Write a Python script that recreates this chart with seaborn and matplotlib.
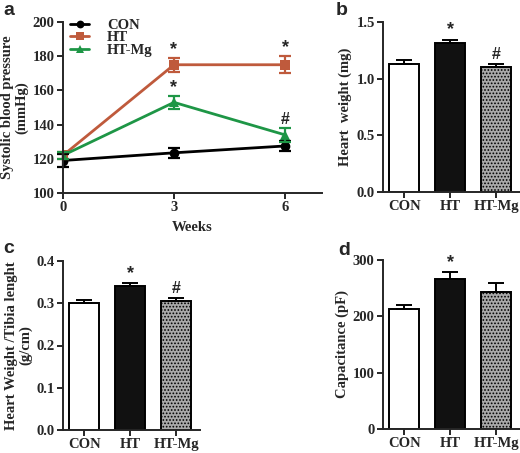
import numpy as np
import pandas as pd
import matplotlib
matplotlib.use('Agg')
import matplotlib.pyplot as plt
import seaborn as sns

# panel a: systolic blood pressure over weeks
weeks = [0, 3, 6]
groups = ['CON', 'HT', 'HT-Mg']
sbp_mean = {'CON': [119, 123.5, 127.5], 'HT': [122, 175, 175], 'HT-Mg': [122, 153, 134]}
sbp_err = {'CON': [4, 3, 3], 'HT': [2, 4, 5], 'HT-Mg': [2, 4, 4]}
sbp_marks = {'HT': ['', '*', '*'], 'HT-Mg': ['', '*', '#']}

# panels b, c, d: bar charts
heart_weight = [1.13, 1.315, 1.10]
heart_weight_err = [0.035, 0.03, 0.03]
hw_tibia = [0.300, 0.341, 0.306]
hw_tibia_err = [0.008, 0.007, 0.007]
capacitance = [213, 267, 244]
capacitance_err = [8, 12, 15]
bar_marks_b = ['', '*', '#']
bar_marks_c = ['', '*', '#']
bar_marks_d = ['', '*', '']

line_colors = {'CON': 'black', 'HT': '#bf5a3c', 'HT-Mg': '#1e9646'}
markers = {'CON': 'o', 'HT': 's', 'HT-Mg': '^'}
bar_faces = ['white', '#111111', '#a9a9a9']

sns.set_style('ticks')
plt.rcParams['font.family'] = ['Liberation Serif', 'DejaVu Serif']
plt.rcParams['font.weight'] = 'bold'
plt.rcParams['axes.labelweight'] = 'bold'
plt.rcParams['axes.linewidth'] = 1.4
plt.rcParams['xtick.major.width'] = 1.4
plt.rcParams['ytick.major.width'] = 1.4
plt.rcParams['xtick.major.size'] = 4
plt.rcParams['ytick.major.size'] = 4
plt.rcParams['hatch.color'] = '#d6d6d6'
plt.rcParams['hatch.linewidth'] = 0.8

W, H = 520, 453
fig = plt.figure(figsize=(W / 100, H / 100), dpi=100)
FS = 10.5


def ax_at(left, top, right, bottom):
    return fig.add_axes([left / W, 1 - bottom / H, (right - left) / W, (bottom - top) / H])


ax_a = ax_at(63, 22, 322, 193)
ax_b = ax_at(383, 22, 520, 192)
ax_c = ax_at(63, 261, 200, 430)
ax_d = ax_at(383, 260, 520, 429)


def mark(ax, x, y, s, dy):
    # significance sign just above the error bar cap
    ax.annotate(s, (x, y), xytext=(0, dy), textcoords='offset points',
                ha='center', va='center', fontsize=13 if s == '*' else 11.5,
                fontweight='bold', family=['Liberation Sans', 'DejaVu Sans'])


# ---- panel a
rows = []
for g in groups:
    for w, m, e in zip(weeks, sbp_mean[g], sbp_err[g]):
        rows.append([g, w, m, e])
df_a = pd.DataFrame(rows, columns=['Group', 'Week', 'SBP', 'SEM'])

sns.lineplot(data=df_a, x='Week', y='SBP', hue='Group', style='Group',
             palette=line_colors, markers=markers, dashes=False,
             markersize=7, linewidth=2, markeredgewidth=0, ax=ax_a, errorbar=None)
for g in groups:
    d = df_a[df_a['Group'] == g]
    ax_a.errorbar(d['Week'], d['SBP'], yerr=d['SEM'], fmt='none',
                  ecolor=line_colors[g], elinewidth=1.6, capsize=4, capthick=1.6, clip_on=False)
for g, marks in sbp_marks.items():
    d = df_a[df_a['Group'] == g]
    for w, m, e, s in zip(d['Week'], d['SBP'], d['SEM'], marks):
        if s:
            mark(ax_a, w, m + e, s, 6)

ax_a.set_xlim(0, 7)
ax_a.set_ylim(100, 200)
ax_a.set_xticks(weeks)
ax_a.set_yticks([100, 120, 140, 160, 180, 200])
ax_a.set_xlabel('Weeks', fontsize=FS, labelpad=5)
ax_a.set_ylabel('Systolic blood pressure\n(mmHg)', fontsize=FS, labelpad=3, linespacing=1.05)
leg = ax_a.legend(loc='upper left', bbox_to_anchor=(-0.005, 1.07), frameon=False,
                  fontsize=FS, handlelength=1.3, handletextpad=1.2, labelspacing=-0.05,
                  borderaxespad=0.2, markerscale=0.8)
for t in leg.get_texts():
    t.set_fontweight('bold')


# ---- bar panels
def bar_panel(ax, vals, errs, marks, ylim, yticks, ylabel, fmt):
    dfb = pd.DataFrame({'Group': groups, 'Value': vals})
    sns.barplot(data=dfb, x='Group', y='Value', hue='Group', palette=bar_faces,
                width=0.66, edgecolor='black', linewidth=1.4, legend=False, ax=ax)
    ax.patches[2].set_hatch('.....')
    ax.errorbar(range(len(groups)), vals, yerr=[np.zeros(len(errs)), errs], fmt='none',
                ecolor='black', elinewidth=1.4, capsize=6, capthick=1.4)
    for i, (v, e, s) in enumerate(zip(vals, errs, marks)):
        if s:
            mark(ax, i, v + e, s, 7)
    ax.set_xlim(-0.46, 2.52)
    ax.set_ylim(*ylim)
    ax.set_yticks(yticks)
    ax.set_yticklabels([fmt.format(t) for t in yticks])
    ax.set_xlabel('')
    ax.set_ylabel(ylabel, fontsize=FS, labelpad=3, linespacing=1.05)


bar_panel(ax_b, heart_weight, heart_weight_err, bar_marks_b, (0, 1.5),
          [0.0, 0.5, 1.0, 1.5], 'Heart  weight (mg)', '{:.1f}')
bar_panel(ax_c, hw_tibia, hw_tibia_err, bar_marks_c, (0, 0.4),
          [0.0, 0.1, 0.2, 0.3, 0.4], 'Heart Weight /Tibia lenght\n(g/cm)', '{:.1f}')
bar_panel(ax_d, capacitance, capacitance_err, bar_marks_d, (0, 300),
          [0, 100, 200, 300], 'Capacitance (pF)', '{:.0f}')

for ax in [ax_a, ax_b, ax_c, ax_d]:
    sns.despine(ax=ax)
    ax.tick_params(labelsize=FS, pad=2)
    for lab in ax.get_xticklabels() + ax.get_yticklabels():
        lab.set_fontweight('bold')

for letter, x, y in [('a', 3, 2), ('b', 336, 2), ('c', 3, 240), ('d', 338, 242)]:
    fig.text(x / W, 1 - y / H, letter, ha='left', va='top', fontsize=14,
             fontweight='bold', family=['Liberation Sans', 'DejaVu Sans'])

fig.savefig('out.png', dpi=100)
